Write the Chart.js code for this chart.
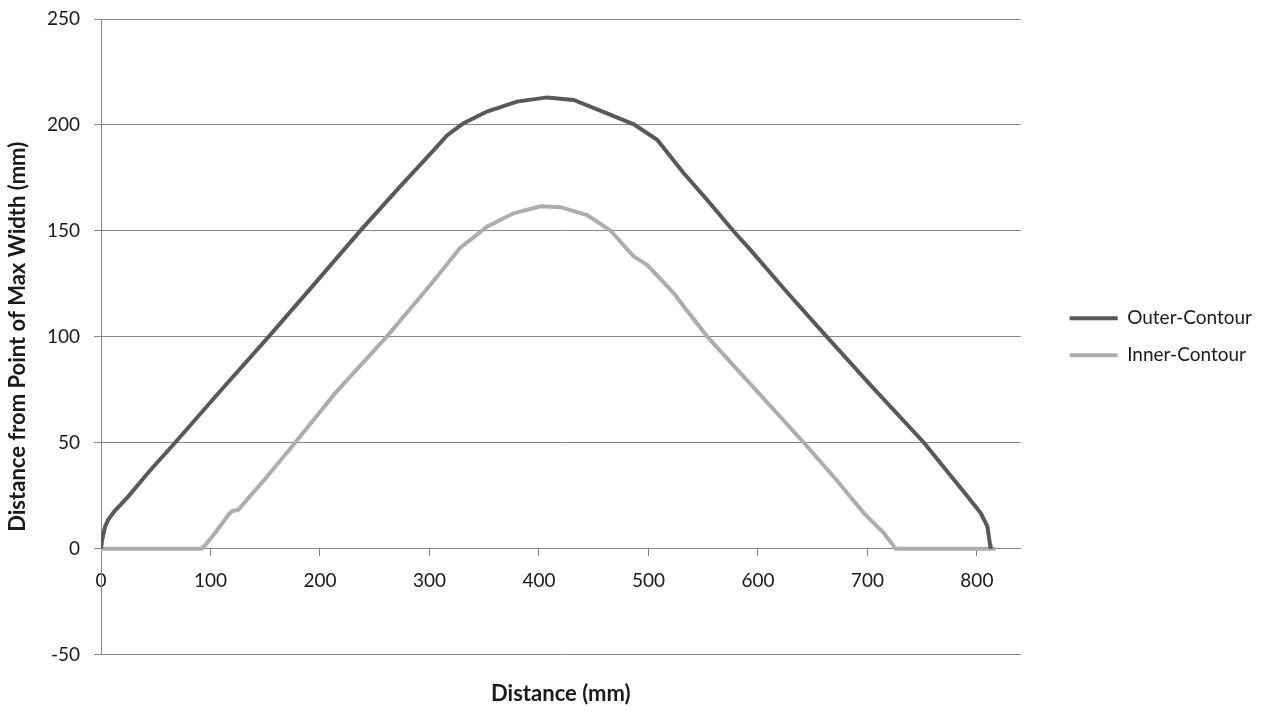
<!DOCTYPE html>
<html>

<head>
    <title>Contour Profile</title>
    <script src="https://cdn.jsdelivr.net/npm/chart.js"></script>
    <style>
        html, body {
            margin: 0;
            padding: 0;
            background: white;
        }

        .chart-container {
            width: 1279px;
            height: 713px;
        }
    </style>
</head>

<body>
    <div class="chart-container">
        <canvas id="contourChart"></canvas>
    </div>

    <script>
        // Outer contour (mm)
        const outerX = [0, 1, 3.7, 6.7, 12, 25, 45, 67.6, 110, 153, 195, 236.7, 273.3, 303.7, 316, 325, 331.2, 352.5, 380, 407.4,
            431.7, 462.2, 486.6, 508, 532.3, 553.6, 578, 593.2, 625, 663, 705, 751.7, 791.3, 803.5, 809.6, 812, 812.5];
        const outerY = [0, 4, 10.4, 13.7, 17.5, 24.7, 37, 50, 75, 100, 125, 150, 171, 188, 195, 198.5, 200.8, 206.3, 211, 213,
            211.8, 205.5, 200.3, 193, 177.2, 164.6, 149.7, 141, 122, 100, 76, 50, 24.7, 16.8, 10.5, 2, 0];

        // Inner contour
        const innerX = [0, 92, 95, 105, 116.4, 120, 125.5, 150, 177.3, 213.9, 261, 300, 328, 352.5, 376.9, 401.3, 419.6,
            444, 465.3, 486.6, 498.8, 523.1, 532.3, 553.7, 602.4, 642, 670, 696.8, 715, 725.8, 817.2];
        const innerY = [0, 0, 1.5, 8, 16, 17.8, 18.4, 33, 50, 73.4, 100.1, 124, 142, 152, 158.3, 161.6, 161.2,
            157.5, 150.2, 137.9, 134, 120.6, 114.3, 100.1, 72.5, 50, 33.5, 16.8, 7.4, 0, 0];

        const seriesNames = ['Outer-Contour', 'Inner-Contour'];
        const xTicks = [0, 100, 200, 300, 400, 500, 600, 700, 800];
        const yTicks = [-50, 0, 50, 100, 150, 200, 250];

        const toPoints = (xs, ys) => xs.map((x, i) => ({ x: x, y: ys[i] }));

        const gridGray = '#868686';
        const textColor = '#1a1a1a';
        const fontFamily = 'Lato, "Open Sans", sans-serif';

        const ctx = document.getElementById('contourChart').getContext('2d');
        new Chart(ctx, {
            type: 'line',
            data: {
                datasets: [{
                    label: seriesNames[0],
                    data: toPoints(outerX, outerY),
                    borderColor: '#595959',
                    backgroundColor: '#595959',
                    borderWidth: 4,
                    pointRadius: 0,
                    tension: 0
                }, {
                    label: seriesNames[1],
                    data: toPoints(innerX, innerY),
                    borderColor: '#ADADAD',
                    backgroundColor: '#ADADAD',
                    borderWidth: 4,
                    pointRadius: 0,
                    tension: 0
                }]
            },
            options: {
                responsive: true,
                maintainAspectRatio: false,
                animation: false,
                layout: {
                    padding: { top: 19, right: 17, left: 0, bottom: 0 }
                },
                scales: {
                    x: {
                        type: 'linear',
                        position: { y: 0 },
                        min: 0,
                        max: 840,
                        afterBuildTicks: (scale) => {
                            scale.ticks = xTicks.map(v => ({ value: v }));
                        },
                        grid: {
                            drawOnChartArea: false,
                            drawTicks: true,
                            tickLength: 7,
                            color: gridGray
                        },
                        border: { display: true, color: gridGray, width: 1 },
                        ticks: {
                            padding: 14,
                            maxRotation: 0,
                            color: textColor,
                            font: { family: fontFamily, size: 19 }
                        }
                    },
                    y: {
                        type: 'linear',
                        min: -50,
                        max: 250,
                        afterBuildTicks: (scale) => {
                            scale.ticks = yTicks.map(v => ({ value: v }));
                        },
                        afterFit: (scale) => {
                            scale.width = 101;
                            scale.paddingTop = 0;
                            scale.paddingBottom = 0;
                        },
                        grid: {
                            color: gridGray,
                            tickLength: 7
                        },
                        border: { display: true, color: gridGray, width: 1 },
                        ticks: {
                            padding: 14,
                            color: textColor,
                            font: { family: fontFamily, size: 19 }
                        },
                        title: {
                            display: true,
                            text: 'Distance from Point of Max Width (mm)',
                            color: textColor,
                            padding: { top: 5, bottom: 0 },
                            font: { family: fontFamily, size: 22, weight: 'bold' }
                        }
                    },
                    yGap: {
                        type: 'linear',
                        position: 'right',
                        display: true,
                        afterFit: (scale) => { scale.width = 31; },
                        grid: { display: false },
                        border: { display: false },
                        ticks: { display: false }
                    }
                },
                plugins: {
                    legend: {
                        position: 'right',
                        fullSize: false,
                        labels: {
                            boxWidth: 48,
                            boxHeight: 4,
                            padding: 18,
                            color: textColor,
                            font: { family: fontFamily, size: 19 },
                            generateLabels: (chart) =>
                                Chart.defaults.plugins.legend.labels.generateLabels(chart)
                                    .map(item => ({ ...item, lineWidth: 0 }))
                        }
                    },
                    title: {
                        display: true,
                        text: 'Distance (mm)',
                        position: 'bottom',
                        fullSize: false,
                        color: textColor,
                        padding: { top: 26, bottom: 6 },
                        font: { family: fontFamily, size: 22, weight: 'bold' }
                    },
                    tooltip: { enabled: false }
                }
            }
        });
    </script>
</body>

</html>
